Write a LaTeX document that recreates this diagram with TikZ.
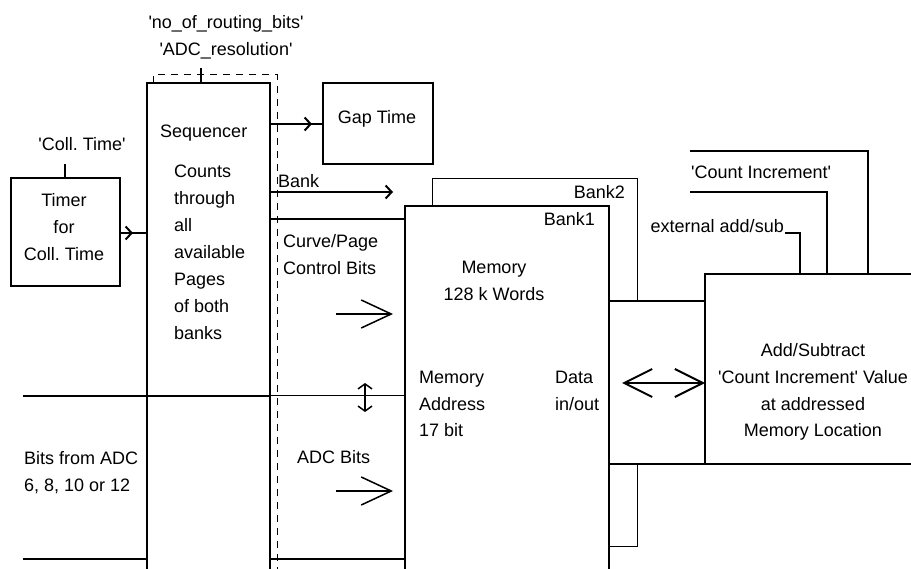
\documentclass[tikz,border=0pt]{standalone}
\usepackage{fontspec}
\setmainfont{Liberation Sans}
\usetikzlibrary{arrows.meta,decorations.markings}
\newcommand\sq{\textquotesingle}
\frenchspacing
\tikzset{
  wire/.style={line width=2pt},
  fine/.style={line width=1pt},
  blk/.style={inner sep=0pt,outer sep=0pt},
  lbl/.style={inner sep=0pt,anchor=base west,align=left},
  clbl/.style={inner sep=0pt,anchor=base,align=center},
  rlbl/.style={inner sep=0pt,anchor=base east,align=right},
  barb/.style={-{Straight Barb[length=6pt,width=13pt]}},
  bigbarb/.style={-{Straight Barb[length=30pt,width=28pt]}},
  midbarb/.style={postaction={decorate},decoration={markings,
      mark=at position #1 with {\arrow{Straight Barb[length=6pt,width=13pt]}}}},
}
\begin{document}
\begin{tikzpicture}[x=1pt,y=-1pt,font=\fontsize{18}{27}\selectfont,line join=miter]
\useasboundingbox (0,0) rectangle (911,569);
% blocks
\node[blk,draw,line width=2pt,minimum width=109pt,minimum height=108pt] (timer) at (65.5,232) {};
\node[blk,minimum width=123pt,minimum height=486pt] (seq) at (208.5,326) {};
\node[blk,draw,line width=2pt,minimum width=110pt,minimum height=81pt] (gap) at (378,123.5) {};
\node[blk,minimum width=204pt,minimum height=363pt] (mem) at (507,387.5) {};
\node[blk,draw,line width=2pt,minimum width=215pt,minimum height=190pt] (add) at (812.5,369) {};
\coordinate (timerin) at (65,164);
\coordinate (seqin) at (201,68);
\coordinate (bankend) at (393,192);
\coordinate (ctrl) at (0,219);
\coordinate (adr) at (0,396);
\coordinate (bottom) at (0,559);
\coordinate (left) at (23,0);
\coordinate (ctrltip) at (393,314);
\coordinate (adctip) at (393,491);
\coordinate (datatip) at (622,383);
\coordinate (bus) at (609,301);
\coordinate (busend) at (609,464);
% sequencer with routing frame
\draw[fine,dash pattern=on 7pt off 6pt] (153,83) -- (153,75) -- (277,75) -- (277,569);
\draw[wire] (seq.south west) |- (seq.north east) -- (seq.south east);
\draw[wire] (seqin) -- (seqin |- seq.north);
\draw[wire] (timerin) -- (timer.north -| timerin);
\draw[wire,midbarb=13pt] (timer.east |- 0,233) -- (seq.west |- 0,233);
\draw[wire,midbarb=42pt] (seq.east |- 0,124) -- (gap.west |- 0,124);
\draw[wire,barb] (seq.east |- bankend) -- (bankend);
\draw[wire] (seq.east |- ctrl) -- (mem.west |- ctrl);
% memory banks
\draw[fine] (mem.east |- 0,546) -| (637,179) -| (432,206);
\draw[wire,fill=white] (bus) rectangle (add.west |- busend);
\draw[wire] (mem.south west) |- (mem.north east) -- (mem.south east);
% address and data lines
\draw[wire] (left |- adr) -- (seq.east |- adr);
\draw[fine] (seq.east |- adr) -- (mem.west |- adr);
\draw[wire] (left |- bottom) -- (seq.west |- bottom);
\draw[wire] (seq.east |- bottom) -- (mem.west |- bottom);
\draw[line width=1.5pt,bigbarb] ([xshift=-57pt]ctrltip) -- (ctrltip);
\draw[line width=1.5pt,bigbarb] ([xshift=-57pt]adctip) -- (adctip);
\draw[line width=1.5pt,{Straight Barb[length=5pt,width=14pt]}-{Straight Barb[length=5pt,width=14pt]}]
  (365,383) -- (365,412);
\draw[wire,{Straight Barb[length=28pt,width=28pt]}-{Straight Barb[length=28pt,width=28pt]}]
  (datatip) -- (add.west |- datatip);
% control inputs of adder
\draw[wire] (690,151) -| (add.north -| 868,0);
\draw[wire] (690,192) -| (add.north -| 827,0);
\draw[wire] (785,233) -| (add.north -| 800,0);
% texts (base of last line)
\node[clbl] (routing) at (226,29) {\sq no\_of\_routing\_bits\sq};
\node[clbl] (resol) at (226,56) {\sq ADC\_resolution\sq};
\node[clbl] (colltime) at (82,151) {\sq Coll. Time\sq};
\node[clbl] (timertxt) at (64,261) {Timer\\for\\Coll. Time};
\node[lbl] (seqtxt) at (160,138) {Sequencer};
\node[lbl] (counts) at (174,340) {Counts\\through\\all\\available\\Pages\\of both\\banks};
\node[clbl] (gaptxt) at (377,124) {Gap Time};
\node[lbl] (banktxt) at (278,188) {Bank};
\node[lbl] (ctrltxt) at (283,275) {Curve/Page\\Control Bits};
\node[lbl] (adctxt) at (24,491) {Bits from ADC\\6, 8, 10 or 12};
\node[lbl] (adcbits) at (297,464) {ADC Bits};
\node[rlbl] (bank2) at (625,199) {Bank2};
\node[rlbl] (bank1) at (595,226) {Bank1};
\node[clbl] (memtxt) at (494,301) {Memory\\128 k Words};
\node[lbl] (adrtxt) at (419,437) {Memory\\Address\\17 bit};
\node[lbl] (datatxt) at (555,410) {Data\\in/out};
\node[clbl] (addtxt) at (813,437) {Add/Subtract\\\sq Count Increment\sq{} Value\\at addressed\\Memory Location};
\node[rlbl] (exttxt) at (784,233) {external add/sub};
\node[lbl] (inctxt) at (691,179) {\sq Count Increment\sq};
\end{tikzpicture}
\end{document}
